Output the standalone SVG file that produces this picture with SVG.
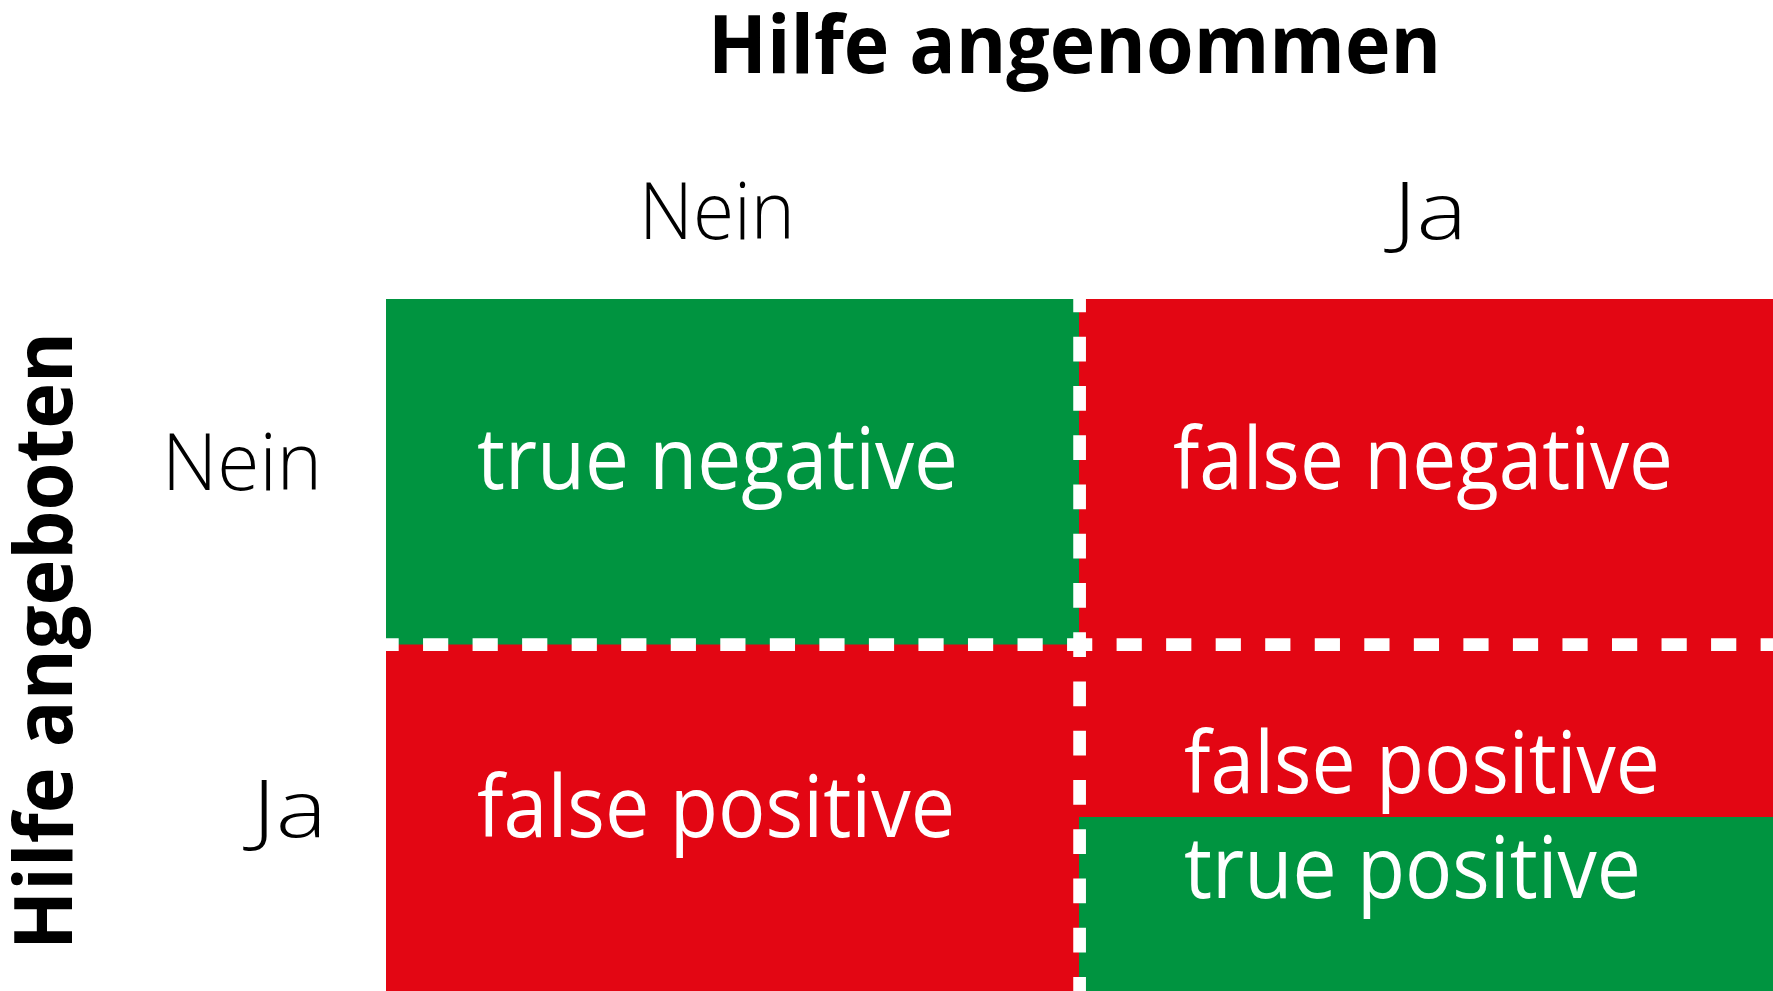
<svg xmlns="http://www.w3.org/2000/svg" width="1773" height="991" viewBox="0 0 1773 991">
  <style>
    .title { font-family: "Open Sans", "Noto Sans", sans-serif; font-weight: 700; font-size: 81px; fill: #000; }
    .axis { font-family: "Open Sans", "Noto Sans", sans-serif; font-weight: 300; font-size: 80px; fill: #000; }
    .cell-label { font-family: "Open Sans", "Noto Sans", sans-serif; font-weight: 400; font-size: 86px; fill: #fff; }
    .green { fill: #009440; }
    .red { fill: #e30613; }
    .divider { stroke: #fff; stroke-width: 12.7; fill: none; }
  </style>
  <rect width="1773" height="991" fill="#fff"/>

  <!-- column header -->
  <g id="header-accepted">
    <text class="title" x="708" y="73" textLength="733" lengthAdjust="spacingAndGlyphs">Hilfe angenommen</text>
  </g>
  <g id="col-nein">
    <text class="axis" x="639" y="239" textLength="156" lengthAdjust="spacingAndGlyphs">Nein</text>
  </g>
  <g id="col-ja">
    <text class="axis" x="1393" y="239" textLength="74" lengthAdjust="spacingAndGlyphs">Ja</text>
  </g>

  <!-- row header -->
  <g id="header-offered">
    <text class="title" transform="translate(72,950) rotate(-90)" x="0" y="0" textLength="618" lengthAdjust="spacingAndGlyphs">Hilfe angeboten</text>
  </g>
  <g id="row-nein">
    <text class="axis" x="162" y="490" textLength="160" lengthAdjust="spacingAndGlyphs">Nein</text>
  </g>
  <g id="row-ja">
    <text class="axis" x="252" y="837" textLength="75" lengthAdjust="spacingAndGlyphs">Ja</text>
  </g>

  <!-- matrix cells -->
  <g id="cell-true-negative">
    <rect class="green" x="386" y="299" width="694" height="346"/>
    <text class="cell-label" x="477" y="489" textLength="481" lengthAdjust="spacingAndGlyphs">true negative</text>
  </g>
  <g id="cell-false-negative">
    <rect class="red" x="1079" y="299" width="694" height="346"/>
    <text class="cell-label" x="1173" y="489" textLength="500" lengthAdjust="spacingAndGlyphs">false negative</text>
  </g>
  <g id="cell-false-positive">
    <rect class="red" x="386" y="644.5" width="694" height="346.5"/>
    <text class="cell-label" x="477" y="837" textLength="478" lengthAdjust="spacingAndGlyphs">false positive</text>
  </g>
  <g id="cell-mixed">
    <rect class="red" x="1079" y="644.5" width="694" height="173"/>
    <rect class="green" x="1079" y="817" width="694" height="174"/>
    <text class="cell-label" x="1184" y="793" textLength="476" lengthAdjust="spacingAndGlyphs">false positive</text>
    <text class="cell-label" x="1184" y="898" textLength="457" lengthAdjust="spacingAndGlyphs">true positive</text>
  </g>

  <!-- dashed dividers -->
  <g id="connectors">
    <line class="divider" x1="373.5" y1="644.7" x2="1773" y2="644.7" stroke-dasharray="25.2 24.34"/>
    <line class="divider" x1="1079.6" y1="287.5" x2="1079.6" y2="991" stroke-dasharray="24.7 24.55"/>
  </g>
</svg>
